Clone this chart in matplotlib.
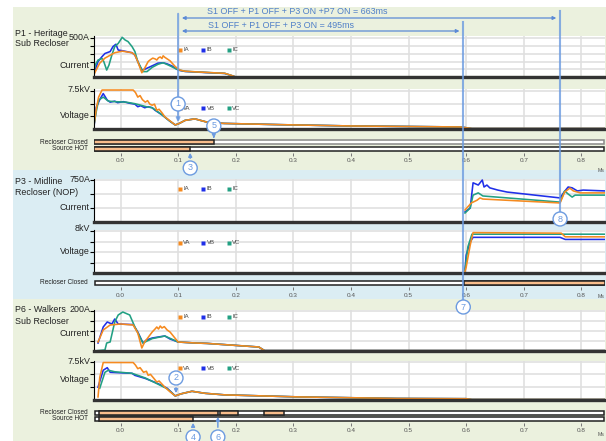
import matplotlib
matplotlib.use("Agg")
import matplotlib.pyplot as plt
from matplotlib.patches import Rectangle, Ellipse, FancyArrowPatch
from matplotlib.lines import Line2D

plt.rcParams['font.family'] = ['Liberation Sans', 'DejaVu Sans']

W, H = 606, 441
XMIN, XMAX = -0.046, 0.841
X_TICKS = [0.0, 0.1, 0.2, 0.3, 0.4, 0.5, 0.6, 0.7, 0.8]
X_LABELS = ["0.0", "0.1", "0.2", "0.3", "0.4", "0.5", "0.6", "0.7", "0.8"]

# event times (s)
T_TRIP = 0.1
T_P3_ON = 0.595
T_P7_ON = 0.763

# ---- P1 Heritage Sub Recloser ----
P1_T_IA = [-0.046, -0.044, -0.036, -0.027, -0.010, 0.003, 0.020, 0.025, 0.030, 0.037, 0.042, 0.048, 0.052, 0.056, 0.060, 0.063,
           0.066, 0.069, 0.072, 0.074, 0.077, 0.081, 0.086, 0.095, 0.103, 0.112, 0.147, 0.181, 0.194, 0.199, 0.841]
P1_IA = [30, 65, 180, 245, 315, 335, 315, 285, 200, 55, 115, 200, 225, 245, 235, 220,
         250, 260, 240, 275, 255, 235, 210, 135, 90, 75, 60, 48, 17, 3, 3]
P1_T_IB = [-0.046, -0.044, -0.039, -0.032, -0.027, -0.018, -0.013, -0.008, -0.004, 0.004, 0.020, 0.025, 0.034, 0.037,
           0.042, 0.055, 0.065, 0.074, 0.081, 0.089, 0.098, 0.103, 0.112, 0.147, 0.181, 0.194, 0.199, 0.841]
P1_IB = [40, 90, 200, 265, 305, 330, 395, 425, 350, 340, 315, 285, 135, 90,
         100, 145, 180, 185, 170, 145, 100, 85, 72, 58, 46, 15, 2, 2]
P1_T_IC = [-0.046, -0.044, -0.039, -0.032, -0.029, -0.024, -0.020, -0.015, -0.010, -0.004, 0.003, 0.008, 0.013, 0.020, 0.025,
           0.030, 0.039, 0.046, 0.055, 0.065, 0.074, 0.083, 0.098, 0.103, 0.112, 0.147, 0.181, 0.194, 0.199, 0.841]
P1_IC = [60, 155, 220, 240, 200, 90, 155, 285, 395, 435, 515, 480, 460, 395, 330,
         200, 70, 70, 125, 165, 185, 155, 100, 88, 74, 60, 47, 16, 3, 3]

P1_T_VA = [-0.046, -0.042, -0.038, -0.032, 0.022, 0.026, 0.030, 0.034, 0.038, 0.043, 0.047, 0.051, 0.055, 0.059, 0.063,
           0.067, 0.072, 0.077, 0.086, 0.095, 0.102, 0.112, 0.129, 0.152, 0.180, 0.280, 0.400, 0.590, 0.610, 0.841]
P1_VA = [0.8, 4.0, 6.3, 7.7, 7.7, 7.2, 6.3, 6.6, 5.8, 5.3, 5.6, 4.9, 4.7, 4.9, 3.7,
         3.9, 3.2, 2.4, 1.6, 0.8, 1.1, 1.7, 2.0, 1.3, 1.1, 0.85, 0.6, 0.4, 0.1, 0.1]
P1_T_VB = [-0.046, -0.042, -0.036, -0.030, -0.023, -0.018, -0.010, -0.005, 0.005, 0.015, 0.025, 0.030, 0.035, 0.042, 0.048,
           0.055, 0.060, 0.072, 0.085, 0.095, 0.102, 0.112, 0.129, 0.152, 0.180, 0.280, 0.400, 0.590, 0.610, 0.841]
P1_VB = [0.5, 4.3, 5.8, 7.0, 5.7, 5.3, 5.5, 5.2, 5.4, 5.1, 4.9, 4.4, 4.6, 4.2, 4.4,
         4.2, 3.7, 2.8, 1.6, 0.8, 1.1, 1.7, 2.0, 1.3, 1.1, 0.85, 0.6, 0.4, 0.1, 0.1]
P1_T_VC = [-0.046, -0.042, -0.038, -0.030, -0.021, -0.010, 0.010, 0.025, 0.035, 0.045, 0.055, 0.072,
           0.085, 0.095, 0.102, 0.112, 0.129, 0.152, 0.180, 0.280, 0.400, 0.590, 0.610, 0.841]
P1_VC = [0.8, 3.5, 5.7, 6.3, 5.5, 5.4, 5.3, 5.0, 4.7, 4.4, 4.2, 2.8,
         1.6, 0.8, 1.1, 1.7, 2.0, 1.3, 1.1, 0.85, 0.6, 0.4, 0.1, 0.1]

P1_CLOSED = [(-0.046, 0.162)]
P1_HOT = [(-0.046, 0.121)]

# ---- P3 Midline Recloser (NOP) ----
P3_T_IA = [0.598, 0.609, 0.619, 0.624, 0.629, 0.763, 0.771, 0.780, 0.786, 0.793, 0.798, 0.841]
P3_IA = [215, 340, 390, 430, 410, 340, 535, 605, 555, 535, 520, 520]
P3_T_IB = [0.598, 0.607, 0.612, 0.621, 0.628, 0.631, 0.636, 0.641, 0.655, 0.671, 0.763, 0.770, 0.777, 0.784, 0.793, 0.803, 0.841]
P3_IB = [180, 250, 700, 660, 750, 625, 660, 610, 570, 535, 430, 535, 625, 610, 555, 570, 555]
P3_T_IC = [0.598, 0.607, 0.612, 0.621, 0.629, 0.763, 0.771, 0.777, 0.784, 0.789, 0.841]
P3_IC = [160, 250, 480, 520, 465, 355, 555, 500, 445, 480, 480]

P3_T_VA = [0.598, 0.600, 0.607, 0.612, 0.765, 0.772, 0.841]
P3_VA = [0.3, 1.1, 5.3, 7.7, 7.6, 6.9, 6.9]
P3_T_VB = [0.598, 0.600, 0.607, 0.612, 0.763, 0.772, 0.841]
P3_VB = [0.6, 3.4, 5.9, 6.8, 6.8, 6.4, 6.4]
P3_T_VC = [0.598, 0.603, 0.610, 0.841]
P3_VC = [0.5, 5.0, 7.4, 7.4]

P3_CLOSED = [(0.597, 0.841)]

# ---- P6 Walkers Sub Recloser ----
P6_T_IA = [-0.039, -0.030, -0.018, 0.000, 0.022, 0.030, 0.037, 0.042, 0.055, 0.060, 0.063, 0.066,
           0.069, 0.072, 0.076, 0.081, 0.086, 0.100, 0.130, 0.150, 0.240, 0.250, 0.841]
P6_IA = [45, 105, 130, 135, 130, 90, 15, 45, 95, 110, 120, 110,
         125, 115, 122, 105, 95, 45, 40, 38, 20, 2, 2]
P6_T_IB = [-0.039, -0.030, -0.023, -0.015, -0.010, -0.004, 0.022, 0.030, 0.039, 0.045,
           0.055, 0.070, 0.077, 0.086, 0.100, 0.130, 0.150, 0.240, 0.250, 0.841]
P6_IB = [40, 120, 145, 135, 160, 135, 132, 95, 40, 55,
         65, 72, 75, 60, 45, 40, 38, 20, 2, 2]
P6_T_IC = [-0.039, -0.027, -0.024, -0.018, -0.010, -0.004, 0.004, 0.016, 0.025,
           0.039, 0.055, 0.077, 0.100, 0.130, 0.150, 0.240, 0.250, 0.841]
P6_IC = [2, 5, 40, 45, 145, 180, 195, 180, 120,
         40, 62, 75, 45, 40, 38, 20, 2, 2]

P6_T_VA = [-0.039, -0.036, -0.030, 0.022, 0.026, 0.030, 0.034, 0.040, 0.045, 0.048, 0.052, 0.058, 0.063,
           0.067, 0.077, 0.086, 0.095, 0.105, 0.124, 0.147, 0.181, 0.310, 0.480, 0.600, 0.610, 0.841]
P6_VA = [0.6, 4.4, 7.3, 7.3, 6.8, 6.1, 6.3, 5.4, 5.6, 4.8, 5.0, 4.2, 3.5,
         3.7, 2.5, 1.6, 0.8, 1.2, 1.7, 1.3, 1.0, 0.6, 0.3, 0.25, 0.1, 0.1]
P6_T_VB = [-0.039, -0.030, -0.023, -0.018, 0.000, 0.020, 0.025, 0.043, 0.063, 0.081,
           0.095, 0.105, 0.124, 0.147, 0.181, 0.310, 0.480, 0.600, 0.610, 0.841]
P6_VB = [2.5, 5.8, 6.3, 5.4, 5.3, 5.2, 4.8, 4.2, 3.3, 2.3,
         0.8, 1.2, 1.7, 1.3, 1.0, 0.6, 0.3, 0.25, 0.1, 0.1]
P6_T_VC = [-0.036, -0.027, -0.021, -0.010, 0.020, 0.043, 0.063, 0.081, 0.095,
           0.105, 0.124, 0.147, 0.181, 0.310, 0.480, 0.600, 0.610, 0.841]
P6_VC = [2.3, 5.4, 5.8, 5.5, 5.2, 4.3, 3.2, 2.2, 0.8,
         1.2, 1.7, 1.3, 1.0, 0.6, 0.3, 0.25, 0.1, 0.1]

P6_CLOSED = [(-0.037, 0.169), (0.172, 0.204), (0.249, 0.284)]
P6_HOT = [(-0.037, 0.126)]

ORANGE = '#f58a1f'
BLUE = '#1f2fe8'
TEAL = '#22a083'
BAR_FILL = '#f8bd8c'
GREEN_BG = '#ebf1de'
BLUE_BG = '#dbedf3'
NOTE = '#6c9be0'
TXT = '#222222'

fig = plt.figure(figsize=(W / 100, H / 100), dpi=100)


def fx(px):
    return px / W


def fy(py):
    return 1 - py / H


def tx(t):
    # time -> pixel x of the plot area (94..605)
    return 94 + (t - XMIN) / (XMAX - XMIN) * (605 - 94)


def add_box(top, bottom, left=94, right=605):
    return fig.add_axes([fx(left), fy(bottom), (right - left) / W, (bottom - top) / H])


# section backgrounds
for top, bottom, col in [(7, 170, GREEN_BG), (170, 299, BLUE_BG), (299, 441, GREEN_BG)]:
    fig.add_artist(Rectangle((fx(13), fy(bottom)), (W - 13) / W, (bottom - top) / H,
                             transform=fig.transFigure, fc=col, ec='none', zorder=-10))


def signal_axes(top, bottom, ymax, yticks, series, names, leg_y):
    ax = add_box(top, bottom)
    ax.set_xlim(XMIN, XMAX)
    ax.set_ylim(0, ymax)
    ax.set_facecolor('white')
    ax.set_xticks(X_TICKS)
    ax.set_yticks(yticks)
    ax.grid(True, color='#e0e0e0', lw=1.2)
    ax.set_axisbelow(True)
    ax.tick_params(axis='x', length=0, labelbottom=False)
    ax.tick_params(axis='y', length=3, width=0.8, labelleft=False, direction='out')
    ax.spines['top'].set_visible(False)
    ax.spines['right'].set_visible(False)
    ax.spines['left'].set_linewidth(0.8)
    ax.spines['bottom'].set_linewidth(2.4)
    ax.spines['bottom'].set_color('#333333')
    cols = [ORANGE, BLUE, TEAL]
    for i in [1, 2, 0]:
        t, v = series[i]
        ax.plot(t, v, color=cols[i], lw=1.15, solid_joinstyle='round')
    for x, name, c in zip([0.103, 0.144, 0.188], names, cols):
        ax.plot([x], [leg_y], marker='s', ms=2.2, color=c, mec='none',
                transform=ax.get_xaxis_transform(), clip_on=False)
        ax.text(x + 0.006, leg_y, name, fontsize=4.3, color='#444444', va='center',
                transform=ax.get_xaxis_transform())
    return ax


def bar_axes(top, bottom, rows):
    ax = add_box(top, bottom)
    ax.set_xlim(XMIN, XMAX)
    n = len(rows)
    ax.set_ylim(0, n)
    ax.patch.set_alpha(0)
    for s in ax.spines.values():
        s.set_visible(False)
    for i, (segs, rest_edge) in enumerate(rows):
        y = n - 1 - i + 0.5
        ax.barh(y, XMAX - XMIN - 0.002, left=XMIN + 0.001, height=0.62, color='white',
                edgecolor=rest_edge, lw=1.1)
        for a, b in segs:
            ax.barh(y, b - a, left=a, height=0.62, color=BAR_FILL, edgecolor='#222222', lw=1.1)
    ax.set_yticks([])
    ax.set_xticks(X_TICKS)
    ax.set_xticklabels(X_LABELS)
    ax.tick_params(axis='x', length=2.5, width=0.7, color='#777777', labelsize=4.6,
                   labelcolor='#555555', pad=1.5)
    return ax


def side_text(x, y, s, size=6.0, ha='right'):
    fig.text(fx(x), fy(y), s, fontsize=size, ha=ha, va='center', color=TXT)


# P1
signal_axes(36, 77, 532, [100, 200, 300, 400, 500],
            [(P1_T_IA, P1_IA), (P1_T_IB, P1_IB), (P1_T_IC, P1_IC)], ["IA", "IB", "IC"], 0.66)
signal_axes(89, 129, 7.9, [2.5, 5.0, 7.5],
            [(P1_T_VA, P1_VA), (P1_T_VB, P1_VB), (P1_T_VC, P1_VC)], ["VA", "VB", "VC"], 0.52)
bar_axes(138.5, 152.5, [(P1_CLOSED, '#888888'), (P1_HOT, '#222222')])

# P3
signal_axes(179, 222, 768, [250, 500, 750],
            [(P3_T_IA, P3_IA), (P3_T_IB, P3_IB), (P3_T_IC, P3_IC)], ["IA", "IB", "IC"], 0.77)
signal_axes(230, 273, 8.2, [2, 4, 6, 8],
            [(P3_T_VA, P3_VA), (P3_T_VB, P3_VB), (P3_T_VC, P3_VC)], ["VA", "VB", "VC"], 0.70)
bar_axes(279, 287, [(P3_CLOSED, '#222222')])

# P6
signal_axes(310, 351, 205, [50, 100, 150, 200],
            [(P6_T_IA, P6_IA), (P6_T_IB, P6_IB), (P6_T_IC, P6_IC)], ["IA", "IB", "IC"], 0.83)
signal_axes(361, 400, 7.6, [2.5, 5.0, 7.5],
            [(P6_T_VA, P6_VA), (P6_T_VB, P6_VB), (P6_T_VC, P6_VC)], ["VA", "VB", "VC"], 0.82)
bar_axes(409.5, 422.5, [(P6_CLOSED, '#222222'), (P6_HOT, '#222222')])

# labels
side_text(15, 33, "P1 - Heritage", 6.4, 'left')
side_text(15, 44, "Sub Recloser", 6.4, 'left')
side_text(15, 181, "P3 - Midline", 6.4, 'left')
side_text(15, 192, "Recloser (NOP)", 6.4, 'left')
side_text(15, 310, "P6 - Walkers", 6.4, 'left')
side_text(15, 321, "Sub Recloser", 6.4, 'left')

for y, s in [(38, "500A"), (65, "Current"), (90, "7.5kV"), (116, "Voltage"),
             (180, "750A"), (208, "Current"), (229, "8kV"), (252, "Voltage"),
             (310, "200A"), (334, "Current"), (361, "7.5kV"), (380, "Voltage")]:
    side_text(90, y, s, 6.4)

for y, s in [(142, "Recloser Closed"), (149, "Source HOT"), (283, "Recloser Closed"),
             (413, "Recloser Closed"), (419, "Source HOT")]:
    side_text(88, y, s, 4.7)

for y in [170, 297, 435]:
    fig.text(fx(601), fy(y), "Ms", fontsize=3.8, color='#555555', ha='center', va='center')

# event lines
x1, x2, x3 = tx(T_TRIP), tx(T_P3_ON), tx(T_P7_ON)
fig.add_artist(FancyArrowPatch((fx(x1), fy(11)), (fx(x1), fy(125)), transform=fig.transFigure,
                               arrowstyle='-|>', mutation_scale=5, color=NOTE, lw=1.5, alpha=0.8, zorder=15))
fig.add_artist(Line2D([fx(x2), fx(x2)], [fy(22), fy(300)], transform=fig.transFigure,
                      color=NOTE, lw=1.5, alpha=0.8, zorder=15))
fig.add_artist(Line2D([fx(x3), fx(x3)], [fy(11), fy(212)], transform=fig.transFigure,
                      color=NOTE, lw=1.5, alpha=0.8, zorder=15))

# top spans
for y, xe in [(18, x3), (31, x2)]:
    fig.add_artist(FancyArrowPatch((fx(x1 + 1), fy(y)), (fx(xe - 1), fy(y)), transform=fig.transFigure,
                                   arrowstyle='<|-|>', mutation_scale=5, color='#5b8ad6', lw=0.9, zorder=16))
fig.text(fx(297), fy(11), "S1 OFF + P1 OFF + P3 ON +P7 ON = 663ms", fontsize=6.4,
         color='#4f7fc8', ha='center', va='center')
fig.text(fx(281), fy(25.5), "S1 OFF + P1 OFF + P3 ON = 495ms", fontsize=6.4,
         color='#4f7fc8', ha='center', va='center')

# numbered call-outs: (label, x, y, arrow end y)
callouts = [("1", x1, 104, None), ("5", tx(P1_CLOSED[0][1]), 126, 141), ("3", tx(P1_HOT[0][1]), 168, 150),
            ("7", x2, 307, None), ("8", x3, 219, None), ("2", 176, 378, 396),
            ("4", tx(P6_HOT[0][1]), 437, 420), ("6", tx(P6_CLOSED[0][1]), 437, 414)]
for s, cx, cy, ay in callouts:
    if ay is not None:
        start = cy + 7 if ay > cy else cy - 7
        fig.add_artist(FancyArrowPatch((fx(cx), fy(start)), (fx(cx), fy(ay)), transform=fig.transFigure,
                                       arrowstyle='-|>', mutation_scale=5, color=NOTE, lw=1.1, zorder=18))
    fig.add_artist(Ellipse((fx(cx), fy(cy)), 14 / W, 14 / H, transform=fig.transFigure,
                           fc='white', ec=NOTE, lw=1.0, zorder=20))
    fig.text(fx(cx), fy(cy), s, fontsize=6.5, color=NOTE, ha='center', va='center', zorder=21)

fig.savefig("out.png", dpi=100)
